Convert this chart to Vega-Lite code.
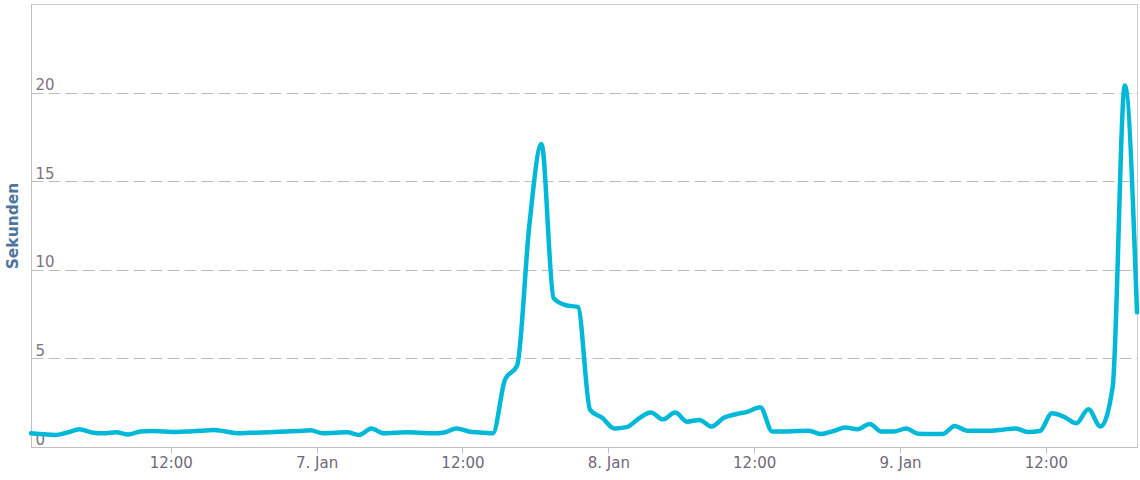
{
  "$schema": "https://vega.github.io/schema/vega-lite/v6.json",
  "width": 1106,
  "height": 443,
  "autosize": {"type": "none"},
  "padding": {"left": 31, "top": 4, "right": 3, "bottom": 33},
  "background": "white",
  "config": {"view": {"stroke": "#cccccc", "strokeWidth": 1}},
  "data": {"values": [
    {"t": "2014-01-06T00:30:00", "v": 0.77},
    {"t": "2014-01-06T01:30:00", "v": 0.72},
    {"t": "2014-01-06T02:30:00", "v": 0.68},
    {"t": "2014-01-06T03:30:00", "v": 0.82},
    {"t": "2014-01-06T04:30:00", "v": 1.0},
    {"t": "2014-01-06T05:30:00", "v": 0.82},
    {"t": "2014-01-06T06:30:00", "v": 0.77},
    {"t": "2014-01-06T07:30:00", "v": 0.83},
    {"t": "2014-01-06T08:30:00", "v": 0.7},
    {"t": "2014-01-06T09:30:00", "v": 0.88},
    {"t": "2014-01-06T10:30:00", "v": 0.9},
    {"t": "2014-01-06T11:30:00", "v": 0.87},
    {"t": "2014-01-06T12:30:00", "v": 0.85},
    {"t": "2014-01-06T13:30:00", "v": 0.88},
    {"t": "2014-01-06T14:30:00", "v": 0.92},
    {"t": "2014-01-06T15:30:00", "v": 0.96},
    {"t": "2014-01-06T16:30:00", "v": 0.88},
    {"t": "2014-01-06T17:30:00", "v": 0.78},
    {"t": "2014-01-06T18:30:00", "v": 0.8},
    {"t": "2014-01-06T19:30:00", "v": 0.82},
    {"t": "2014-01-06T20:30:00", "v": 0.85},
    {"t": "2014-01-06T21:30:00", "v": 0.88},
    {"t": "2014-01-06T22:30:00", "v": 0.9},
    {"t": "2014-01-06T23:30:00", "v": 0.95},
    {"t": "2014-01-07T00:30:00", "v": 0.77},
    {"t": "2014-01-07T01:30:00", "v": 0.8},
    {"t": "2014-01-07T02:30:00", "v": 0.83},
    {"t": "2014-01-07T03:30:00", "v": 0.68},
    {"t": "2014-01-07T04:30:00", "v": 1.05},
    {"t": "2014-01-07T05:30:00", "v": 0.77},
    {"t": "2014-01-07T06:30:00", "v": 0.8},
    {"t": "2014-01-07T07:30:00", "v": 0.83},
    {"t": "2014-01-07T08:30:00", "v": 0.8},
    {"t": "2014-01-07T09:30:00", "v": 0.77},
    {"t": "2014-01-07T10:30:00", "v": 0.82},
    {"t": "2014-01-07T11:30:00", "v": 1.05},
    {"t": "2014-01-07T12:30:00", "v": 0.88},
    {"t": "2014-01-07T13:30:00", "v": 0.82},
    {"t": "2014-01-07T14:30:00", "v": 0.77},
    {"t": "2014-01-07T15:30:00", "v": 3.8},
    {"t": "2014-01-07T16:30:00", "v": 4.6},
    {"t": "2014-01-07T17:30:00", "v": 12.5},
    {"t": "2014-01-07T18:30:00", "v": 17.1},
    {"t": "2014-01-07T19:30:00", "v": 8.4},
    {"t": "2014-01-07T20:30:00", "v": 8.0},
    {"t": "2014-01-07T21:30:00", "v": 7.9},
    {"t": "2014-01-07T22:30:00", "v": 2.1},
    {"t": "2014-01-07T23:30:00", "v": 1.65},
    {"t": "2014-01-08T00:30:00", "v": 1.05},
    {"t": "2014-01-08T01:30:00", "v": 1.12},
    {"t": "2014-01-08T02:30:00", "v": 1.6},
    {"t": "2014-01-08T03:30:00", "v": 1.94},
    {"t": "2014-01-08T04:30:00", "v": 1.56},
    {"t": "2014-01-08T05:30:00", "v": 1.94},
    {"t": "2014-01-08T06:30:00", "v": 1.43},
    {"t": "2014-01-08T07:30:00", "v": 1.53},
    {"t": "2014-01-08T08:30:00", "v": 1.15},
    {"t": "2014-01-08T09:30:00", "v": 1.65},
    {"t": "2014-01-08T10:30:00", "v": 1.85},
    {"t": "2014-01-08T11:30:00", "v": 2.0},
    {"t": "2014-01-08T12:30:00", "v": 2.25},
    {"t": "2014-01-08T13:30:00", "v": 0.87},
    {"t": "2014-01-08T14:30:00", "v": 0.87},
    {"t": "2014-01-08T15:30:00", "v": 0.9},
    {"t": "2014-01-08T16:30:00", "v": 0.92},
    {"t": "2014-01-08T17:30:00", "v": 0.73},
    {"t": "2014-01-08T18:30:00", "v": 0.9},
    {"t": "2014-01-08T19:30:00", "v": 1.1},
    {"t": "2014-01-08T20:30:00", "v": 1.0},
    {"t": "2014-01-08T21:30:00", "v": 1.3},
    {"t": "2014-01-08T22:30:00", "v": 0.87},
    {"t": "2014-01-08T23:30:00", "v": 0.87},
    {"t": "2014-01-09T00:30:00", "v": 1.05},
    {"t": "2014-01-09T01:30:00", "v": 0.75},
    {"t": "2014-01-09T02:30:00", "v": 0.73},
    {"t": "2014-01-09T03:30:00", "v": 0.73},
    {"t": "2014-01-09T04:30:00", "v": 1.19},
    {"t": "2014-01-09T05:30:00", "v": 0.92},
    {"t": "2014-01-09T06:30:00", "v": 0.92},
    {"t": "2014-01-09T07:30:00", "v": 0.92},
    {"t": "2014-01-09T08:30:00", "v": 0.98},
    {"t": "2014-01-09T09:30:00", "v": 1.05},
    {"t": "2014-01-09T10:30:00", "v": 0.85},
    {"t": "2014-01-09T11:30:00", "v": 0.9},
    {"t": "2014-01-09T12:30:00", "v": 1.9},
    {"t": "2014-01-09T13:30:00", "v": 1.7},
    {"t": "2014-01-09T14:30:00", "v": 1.34},
    {"t": "2014-01-09T15:30:00", "v": 2.13},
    {"t": "2014-01-09T16:30:00", "v": 1.15},
    {"t": "2014-01-09T17:30:00", "v": 3.4},
    {"t": "2014-01-09T18:30:00", "v": 20.4},
    {"t": "2014-01-09T19:30:00", "v": 7.6}
  ]},
  "mark": {"type": "line", "interpolate": "monotone", "color": "#00b8d8", "strokeWidth": 4.5, "strokeCap": "round", "strokeJoin": "round"},
  "encoding": {
    "x": {
      "field": "t",
      "type": "temporal",
      "scale": {"domain": [
        {"year": 2014, "month": 1, "date": 6, "hours": 0, "minutes": 30},
        {"year": 2014, "month": 1, "date": 9, "hours": 19, "minutes": 30}
      ]},
      "axis": {
        "title": null,
        "grid": false,
        "values": [
          {"year": 2014, "month": 1, "date": 6, "hours": 12},
          {"year": 2014, "month": 1, "date": 7, "hours": 0},
          {"year": 2014, "month": 1, "date": 7, "hours": 12},
          {"year": 2014, "month": 1, "date": 8, "hours": 0},
          {"year": 2014, "month": 1, "date": 8, "hours": 12},
          {"year": 2014, "month": 1, "date": 9, "hours": 0},
          {"year": 2014, "month": 1, "date": 9, "hours": 12}
        ],
        "labelExpr": "hours(datum.value) == 0 ? timeFormat(datum.value, '%-d. %b') : timeFormat(datum.value, '%H:%M')",
        "labelFont": "DejaVu Sans",
        "labelFontSize": 15,
        "labelColor": "#6e6878",
        "labelOverlap": false,
        "labelFlush": false,
        "labelPadding": 2,
        "labelBaseline": "top",
        "domainColor": "#c0c0c0",
        "domainWidth": 1,
        "tickColor": "#c0c0c0",
        "tickSize": 6,
        "tickWidth": 1
      }
    },
    "y": {
      "field": "v",
      "type": "quantitative",
      "scale": {"domain": [0, 25], "nice": false, "zero": true},
      "axis": {
        "title": "Sekunden",
        "titleFont": "DejaVu Sans",
        "titleFontSize": 15.5,
        "titleFontWeight": "bold",
        "titleColor": "#4d759e",
        "titleX": -14,
        "titleBaseline": "alphabetic",
        "values": [0, 5, 10, 15, 20],
        "ticks": false,
        "tickSize": 0,
        "labelAlign": "left",
        "labelBaseline": "alphabetic",
        "labelPadding": -4,
        "labelOffset": -3,
        "labelFont": "DejaVu Sans",
        "labelFontSize": 15,
        "labelColor": "#7d7282",
        "domainColor": "#c0c0c0",
        "grid": true,
        "gridColor": "#bdbdbd",
        "gridDash": [12, 5],
        "gridWidth": 1
      }
    }
  }
}
